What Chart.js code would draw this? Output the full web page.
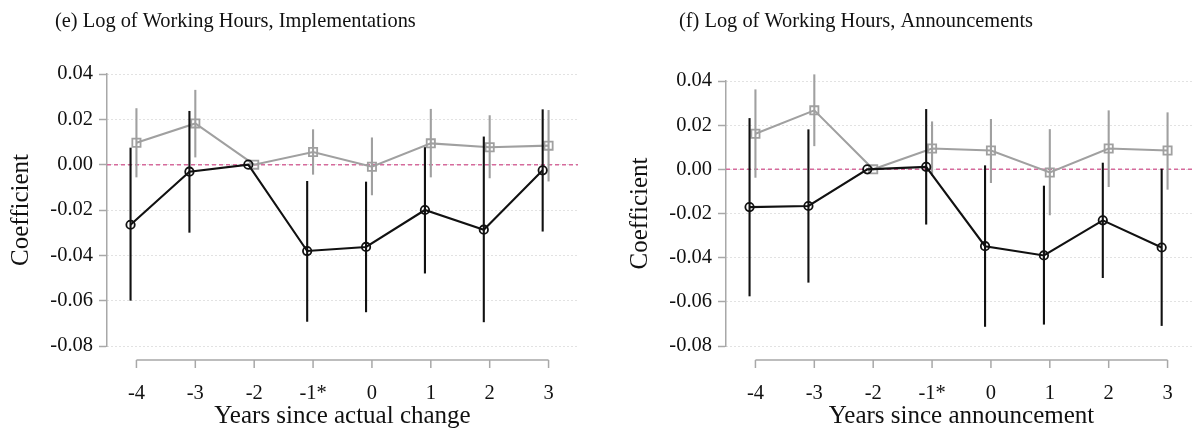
<!DOCTYPE html>
<html>
<head>
<meta charset="utf-8">
<script src="https://cdn.jsdelivr.net/npm/chart.js@4.4.0/dist/chart.umd.min.js"></script>
<style>
  html, body { margin: 0; padding: 0; background: #fff; overflow: hidden; }
  body { width: 1192px; height: 431px; position: relative; }
  .panel { position: absolute; top: 0; width: 596px; height: 431px; }
  #panel-e { left: 0; }
  #panel-f { left: 619px; }
</style>
</head>
<body>
<div class="panel" id="panel-e"><canvas id="hours-impl-chart" width="596" height="431"></canvas></div>
<div class="panel" id="panel-f"><canvas id="hours-ann-chart" width="596" height="431"></canvas></div>
<script>
// Event-time categories and tick labels
const years = [-4, -3, -2, -1, 0, 1, 2, 3];
const xTickLabels = ['-4', '-3', '-2', '-1*', '0', '1', '2', '3'];
const yTicks = [-0.08, -0.06, -0.04, -0.02, 0, 0.02, 0.04];

// (e) Implementations - black series (circles) and grey series (squares)
const implBlack   = [-0.0265, -0.0031, 0, -0.0381, -0.0363, -0.0200, -0.0287, -0.0025];
const implBlackLo = [-0.0600, -0.0300, null, -0.0693, -0.0651, -0.0480, -0.0695, -0.0295];
const implBlackHi = [0.0075, 0.0237, null, -0.0072, -0.0075, 0.0077, 0.0124, 0.0244];
const implGrey    = [0.0097, 0.0182, 0, 0.0056, -0.0009, 0.0094, 0.0077, 0.0084];
const implGreyLo  = [-0.0056, 0.0032, null, -0.0044, -0.0135, -0.0056, -0.0060, -0.0074];
const implGreyHi  = [0.0249, 0.0330, null, 0.0156, 0.0120, 0.0246, 0.0218, 0.0241];

// (f) Announcements
const annBlack   = [-0.0171, -0.0166, 0, 0.0011, -0.0348, -0.0390, -0.0231, -0.0354];
const annBlackLo = [-0.0575, -0.0513, null, -0.0250, -0.0713, -0.0703, -0.0492, -0.0709];
const annBlackHi = [0.0232, 0.0181, null, 0.0273, 0.0018, -0.0074, 0.0030, 0.0003];
const annGrey    = [0.0161, 0.0267, 0, 0.0094, 0.0085, -0.0014, 0.0094, 0.0085];
const annGreyLo  = [-0.0038, 0.0105, null, -0.0030, -0.0062, -0.0208, -0.0080, -0.0092];
const annGreyHi  = [0.0362, 0.0430, null, 0.0217, 0.0228, 0.0182, 0.0267, 0.0258];

const serif = "'Liberation Serif', 'DejaVu Serif', serif";
const textColor = '#111111';
const axisGrey = '#a8a8a8';
const blackLine = '#111111';
const greyLine = '#a0a0a0';

// Vertical confidence intervals drawn under each dataset
const errorBarPlugin = {
    id: 'errorBars',
    beforeDatasetDraw(chart, args) {
        const ds = chart.data.datasets[args.index];
        if (!ds.ciLow) return;
        const { ctx, scales: { x, y } } = chart;
        ctx.save();
        ctx.strokeStyle = ds.borderColor;
        ctx.lineWidth = 2.1;
        ds.data.forEach((pt, i) => {
            if (ds.ciLow[i] == null) return;
            const px = x.getPixelForValue(pt.x);
            ctx.beginPath();
            ctx.moveTo(px, y.getPixelForValue(ds.ciLow[i]));
            ctx.lineTo(px, y.getPixelForValue(ds.ciHigh[i]));
            ctx.stroke();
        });
        ctx.restore();
    }
};

// Zero reference line, detached x axis and panel title
const framePlugin = {
    id: 'frame',
    beforeDatasetsDraw(chart) {
        const { ctx, chartArea, scales: { y } } = chart;
        const py = y.getPixelForValue(0);
        ctx.save();
        ctx.strokeStyle = '#d66a9c';
        ctx.lineWidth = 1.5;
        ctx.setLineDash([4, 3]);
        ctx.beginPath();
        ctx.moveTo(chartArea.left, py);
        ctx.lineTo(chartArea.right, py);
        ctx.stroke();
        ctx.restore();
    },
    afterDraw(chart, args, opts) {
        const { ctx, chartArea, scales: { x } } = chart;
        const axisY = chartArea.bottom + 14;
        const x0 = x.getPixelForValue(years[0]);
        const x1 = x.getPixelForValue(years[years.length - 1]);
        ctx.save();
        ctx.strokeStyle = axisGrey;
        ctx.lineWidth = 1.5;
        ctx.beginPath();
        ctx.moveTo(x0, axisY);
        ctx.lineTo(x1, axisY);
        years.forEach(v => {
            const px = x.getPixelForValue(v);
            ctx.moveTo(px, axisY);
            ctx.lineTo(px, axisY + 8);
        });
        ctx.stroke();
        // Panel title
        ctx.fillStyle = textColor;
        ctx.font = `20.4px ${serif}`;
        ctx.textBaseline = 'alphabetic';
        ctx.fillText(opts.text, opts.x, 27);
        ctx.restore();
    }
};

function buildSeries(values, offset) {
    return values.map((v, i) => ({ x: years[i] + offset, y: v }));
}

function createEventStudyChart(canvasId, cfg) {
    const ctx = document.getElementById(canvasId).getContext('2d');
    new Chart(ctx, {
        type: 'line',
        data: {
            datasets: [{
                label: 'Estimate (black)',
                data: buildSeries(cfg.black, -0.1),
                ciLow: cfg.blackLo,
                ciHigh: cfg.blackHi,
                borderColor: blackLine,
                borderWidth: 2.1,
                pointStyle: 'circle',
                pointRadius: 4.2,
                pointBorderWidth: 1.8,
                pointBackgroundColor: 'rgba(0,0,0,0)',
                pointBorderColor: blackLine,
                tension: 0
            }, {
                label: 'Estimate (grey)',
                data: buildSeries(cfg.grey, 0),
                ciLow: cfg.greyLo,
                ciHigh: cfg.greyHi,
                borderColor: greyLine,
                borderWidth: 2.1,
                pointStyle: 'rect',
                pointRadius: 5.8,
                pointBorderWidth: 1.8,
                pointBackgroundColor: 'rgba(0,0,0,0)',
                pointBorderColor: greyLine,
                tension: 0
            }]
        },
        options: {
            responsive: false,
            animation: false,
            layout: {
                padding: { top: cfg.top, right: 18, left: 0, bottom: 0 }
            },
            scales: {
                x: {
                    type: 'linear',
                    min: -4.5,
                    max: 3.5,
                    border: { display: false },
                    grid: { display: false },
                    afterBuildTicks: s => { s.ticks = years.map(v => ({ value: v })); },
                    afterFit: s => { s.height = 85; },
                    ticks: {
                        color: textColor,
                        padding: 27,
                        autoSkip: false,
                        maxRotation: 0,
                        font: { family: serif, size: 20.5 },
                        callback: (value, index) => xTickLabels[index]
                    },
                    title: {
                        display: true,
                        text: cfg.xTitle,
                        color: textColor,
                        font: { family: serif, size: 25 },
                        padding: { top: 0, bottom: 0 }
                    }
                },
                y: {
                    min: -0.08,
                    max: 0.04,
                    afterBuildTicks: s => { s.ticks = yTicks.map(v => ({ value: v })); },
                    afterFit: s => { s.width = 107; },
                    border: { display: true, color: axisGrey, width: 1.5, dash: [1, 3] },
                    grid: {
                        color: '#c4c4c4',
                        lineWidth: 1,
                        tickLength: 8,
                        tickColor: axisGrey,
                        tickWidth: 1.5,
                        tickBorderDash: []
                    },
                    ticks: {
                        color: textColor,
                        padding: 6,
                        font: { family: serif, size: 20.5 },
                        callback: value => value.toFixed(2)
                    },
                    title: {
                        display: true,
                        text: 'Coefficient',
                        color: textColor,
                        font: { family: serif, size: 25 },
                        padding: { top: 6, bottom: 0 }
                    }
                }
            },
            plugins: {
                legend: { display: false },
                title: { display: false },
                tooltip: { enabled: false },
                frame: { text: cfg.title, x: cfg.titleX }
            }
        },
        plugins: [errorBarPlugin, framePlugin]
    });
}

createEventStudyChart('hours-impl-chart', {
    title: '(e) Log of Working Hours, Implementations',
    titleX: 55,
    xTitle: 'Years since actual change',
    top: 74,
    black: implBlack, blackLo: implBlackLo, blackHi: implBlackHi,
    grey: implGrey, greyLo: implGreyLo, greyHi: implGreyHi
});

createEventStudyChart('hours-ann-chart', {
    title: '(f) Log of Working Hours, Announcements',
    titleX: 60,
    xTitle: 'Years since announcement',
    top: 81,
    black: annBlack, blackLo: annBlackLo, blackHi: annBlackHi,
    grey: annGrey, greyLo: annGreyLo, greyHi: annGreyHi
});
</script>
</body>
</html>
